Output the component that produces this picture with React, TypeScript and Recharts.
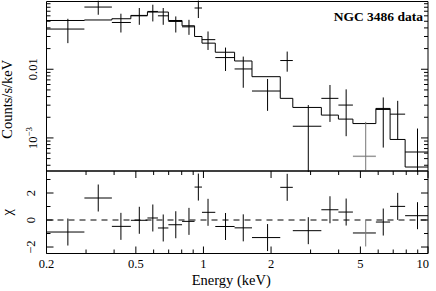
import React from 'react';
import {
  ComposedChart,
  Line,
  Scatter,
  ErrorBar,
  XAxis,
  YAxis,
  ReferenceArea,
  ReferenceLine,
  Label,
} from 'recharts';

// Spectrum bins (keV)
const binEdges = [
  0.2, 0.295, 0.391, 0.475, 0.563, 0.627, 0.698, 0.803, 0.913, 0.985, 1.129,
  1.376, 1.645, 2.198, 2.5, 3.35, 3.99, 4.63, 5.86, 6.78, 7.91, 10.0,
];
const energy = [
  0.249, 0.34, 0.429, 0.518, 0.595, 0.662, 0.753, 0.862, 0.949, 1.048, 1.254,
  1.504, 1.93, 2.36, 2.93, 3.66, 4.32, 5.28, 6.32, 7.33, 8.98,
];
// counts/s/keV and its error range
const flux = [
  0.0385, 0.0805, 0.048, 0.06, 0.0695, 0.06, 0.0497, 0.0415, 0.078, 0.027, 0.0148,
  0.0101, 0.00482, 0.0134, 0.00148, 0.00377, 0.00301, 0.00054, 0.0026, 0.00222, 0.000624,
];
const fluxLow = [
  0.024, 0.0622, 0.0343, 0.0444, 0.0497, 0.0444, 0.0343, 0.0317, 0.0557, 0.0191, 0.00944,
  0.00538, 0.00248, 0.00922, 0.0002, 0.00171, 0.00106, 0.0002, 0.000724, 0.00095, 0.0002,
];
const fluxHigh = [
  0.0543, 0.0995, 0.0644, 0.078, 0.0871, 0.078, 0.0588, 0.0525, 0.1, 0.0355, 0.0207,
  0.0153, 0.00722, 0.0181, 0.00301, 0.0059, 0.0051, 0.00171, 0.00389, 0.00347, 0.00137,
];
// folded model, one value per bin
const model = [
  0.0513, 0.0522, 0.0544, 0.0608, 0.0681, 0.0681, 0.0513, 0.043, 0.03, 0.024, 0.0177,
  0.0132, 0.0078, 0.00377, 0.00278, 0.00215, 0.00188, 0.00162, 0.00269, 0.00095, 0.000377,
];
// residuals in sigma
const chi = [
  -0.89, 1.63, -0.47, -0.02, 0.15, -0.59, -0.35, -0.1, 2.44, 0.57, -0.48,
  -0.58, -1.3, 2.42, -0.79, 0.76, 0.59, -0.96, -0.15, 1.01, 0.32,
];

const energyTicks = [0.2, 0.3, 0.4, 0.5, 0.6, 0.7, 0.8, 0.9, 1, 2, 3, 4, 5, 6, 7, 8, 9, 10];
const energyLabels = [0.2, 0.5, 1, 2, 5, 10];
const fluxTicks = [
  0.0004, 0.0005, 0.0006, 0.0007, 0.0008, 0.0009, 0.001,
  0.002, 0.003, 0.004, 0.005, 0.006, 0.007, 0.008, 0.009, 0.01,
  0.02, 0.03, 0.04, 0.05, 0.06, 0.07, 0.08, 0.09,
];
const fluxLabels = [0.001, 0.01];
const chiTicks = [-2, -1, 0, 1, 2, 3];
const chiLabels = [-2, 0, 2];

const FAINT_BIN = 17;

// layout
const W = 436;
const H = 291;
const LEFT = 46.5;
const RIGHT = 428;
const TOP = 1.5;
const MID = 171;
const BOTTOM = 253.5;
const PLOT_W = RIGHT - LEFT;
const MAJOR = 7;
const MINOR = 4;

const xErr = (i: number) => [energy[i] - binEdges[i], binEdges[i + 1] - energy[i]];

const spectrum = energy.map((e, i) => ({
  E: e,
  f: flux[i],
  ex: xErr(i),
  ey: [flux[i] - fluxLow[i], fluxHigh[i] - flux[i]],
}));
const residuals = energy.map((e, i) => ({ E: e, c: chi[i], ex: xErr(i), ey: [1, 1] }));
const modelSteps = binEdges.map((e, i) => ({ E: e, m: model[Math.min(i, model.length - 1)] }));

const noMarker = () => <g />;

const makeXTick = (plotH: number, withLabels: boolean) => (props: any) => {
  const { x, y, payload } = props;
  const v = payload.value;
  const major = energyLabels.includes(v);
  const len = major ? MAJOR : MINOR;
  return (
    <g>
      <line x1={x} y1={y} x2={x} y2={y - len} stroke="#000" />
      <line x1={x} y1={y - plotH} x2={x} y2={y - plotH + len} stroke="#000" />
      {withLabels && major && (
        <text x={v === 10 ? x + 1 : x} y={y + 14.5} textAnchor={v === 10 ? 'end' : 'middle'} fontSize={12.5} fill="#000">
          {v}
        </text>
      )}
    </g>
  );
};

const makeYTick = (majors: number[], gap: number, render: (v: number) => React.ReactNode) => (props: any) => {
  const { x, y, payload } = props;
  const v = payload.value;
  const major = majors.includes(v);
  const len = major ? MAJOR : MINOR;
  const lx = x - gap;
  return (
    <g>
      <line x1={x} y1={y} x2={x + len} y2={y} stroke="#000" />
      <line x1={x + PLOT_W} y1={y} x2={x + PLOT_W - len} y2={y} stroke="#000" />
      {major && (
        <text x={lx} y={y} transform={`rotate(-90 ${lx} ${y})`} textAnchor="middle" fontSize={12.5} fill="#000">
          {render(v)}
        </text>
      )}
    </g>
  );
};

const fluxLabel = (v: number) =>
  v === 0.001 ? (
    <>
      <tspan>10</tspan>
      <tspan dy={-5} fontSize={9}>−3</tspan>
    </>
  ) : (
    '0.01'
  );
const chiLabel = (v: number) => (v < 0 ? `−${-v}` : `${v}`);

const FLUX_DOMAIN = [0.00033, 0.097];
const CHI_DOMAIN = [-2.48, 3.63];

const App: React.FC = () => {
  return (
    <div
      style={{
        position: 'absolute',
        left: 0,
        top: 0,
        width: W,
        height: H,
        background: '#fff',
        fontFamily: '"Liberation Serif", "DejaVu Serif", serif',
      }}
    >
      <div style={{ position: 'absolute', left: 0, top: 0 }}>
        <ComposedChart width={W} height={MID + 1} margin={{ top: TOP, right: W - RIGHT, bottom: 1, left: 0 }}>
          <XAxis
            dataKey="E"
            type="number"
            scale="log"
            domain={[0.2, 10]}
            allowDataOverflow
            ticks={energyTicks}
            interval={0}
            height={0}
            tickSize={0}
            tickMargin={0}
            tickLine={false}
            axisLine={false}
            tick={makeXTick(MID - TOP, false)}
          />
          <YAxis
            type="number"
            scale="log"
            domain={FLUX_DOMAIN}
            allowDataOverflow
            ticks={fluxTicks}
            interval={0}
            width={LEFT}
            tickSize={0}
            tickMargin={0}
            tickLine={false}
            axisLine={false}
            tick={makeYTick(fluxLabels, 9.5, fluxLabel)}
          >
            <Label value="Counts/s/keV" angle={-90} position="center" dx={-16.5} dy={13} fontSize={14.5} fill="#000" />
          </YAxis>
          <ReferenceArea
            x1={0.2}
            x2={10}
            y1={FLUX_DOMAIN[0]}
            y2={FLUX_DOMAIN[1]}
            fill="none"
            stroke="#000"
            ifOverflow="visible"
          >
            <Label value="NGC 3486 data" position="insideTopRight" offset={5} dy={5} fontSize={13.5} fontWeight="bold" fill="#000" />
          </ReferenceArea>
          <Line
            data={modelSteps}
            dataKey="m"
            type="stepAfter"
            stroke="#000"
            strokeWidth={1}
            dot={false}
            isAnimationActive={false}
          />
          <Scatter data={spectrum.filter((_, i) => i !== FAINT_BIN)} dataKey="f" shape={noMarker} isAnimationActive={false}>
            <ErrorBar dataKey="ex" direction="x" width={0} stroke="#000" strokeWidth={1} />
            <ErrorBar dataKey="ey" direction="y" width={0} stroke="#000" strokeWidth={1} />
          </Scatter>
          <Scatter data={[spectrum[FAINT_BIN]]} dataKey="f" shape={noMarker} isAnimationActive={false}>
            <ErrorBar dataKey="ex" direction="x" width={0} stroke="#999" strokeWidth={1.5} />
            <ErrorBar dataKey="ey" direction="y" width={0} stroke="#777" strokeWidth={1} />
          </Scatter>
        </ComposedChart>
      </div>

      <div style={{ position: 'absolute', left: 0, top: 0 }}>
        <ComposedChart width={W} height={H} margin={{ top: MID, right: W - RIGHT, bottom: 0, left: 0 }}>
          <XAxis
            dataKey="E"
            type="number"
            scale="log"
            domain={[0.2, 10]}
            allowDataOverflow
            ticks={energyTicks}
            interval={0}
            height={H - BOTTOM}
            tickSize={0}
            tickMargin={0}
            tickLine={false}
            axisLine={false}
            tick={makeXTick(BOTTOM - MID, true)}
          >
            <Label value="Energy (keV)" position="insideBottom" offset={6} dx={-6} fontSize={14.5} fill="#000" />
          </XAxis>
          <YAxis
            type="number"
            domain={CHI_DOMAIN}
            allowDataOverflow
            ticks={chiTicks}
            interval={0}
            width={LEFT}
            tickSize={0}
            tickMargin={0}
            tickLine={false}
            axisLine={false}
            tick={makeYTick(chiLabels, 11.5, chiLabel)}
          >
            <Label value="χ" angle={-90} position="center" dx={-16.5} dy={0} fontSize={14.5} fill="#000" />
          </YAxis>
          <ReferenceArea
            x1={0.2}
            x2={10}
            y1={CHI_DOMAIN[0]}
            y2={CHI_DOMAIN[1]}
            fill="none"
            stroke="#000"
            ifOverflow="visible"
          />
          <ReferenceLine y={0} stroke="#000" strokeDasharray="6 5" />
          <Scatter data={residuals.filter((_, i) => i !== FAINT_BIN)} dataKey="c" shape={noMarker} isAnimationActive={false}>
            <ErrorBar dataKey="ex" direction="x" width={0} stroke="#000" strokeWidth={1} />
            <ErrorBar dataKey="ey" direction="y" width={0} stroke="#000" strokeWidth={1} />
          </Scatter>
          <Scatter data={[residuals[FAINT_BIN]]} dataKey="c" shape={noMarker} isAnimationActive={false}>
            <ErrorBar dataKey="ex" direction="x" width={0} stroke="#000" strokeWidth={1} />
            <ErrorBar dataKey="ey" direction="y" width={0} stroke="#777" strokeWidth={1} />
          </Scatter>
        </ComposedChart>
      </div>
    </div>
  );
};

export default App;
